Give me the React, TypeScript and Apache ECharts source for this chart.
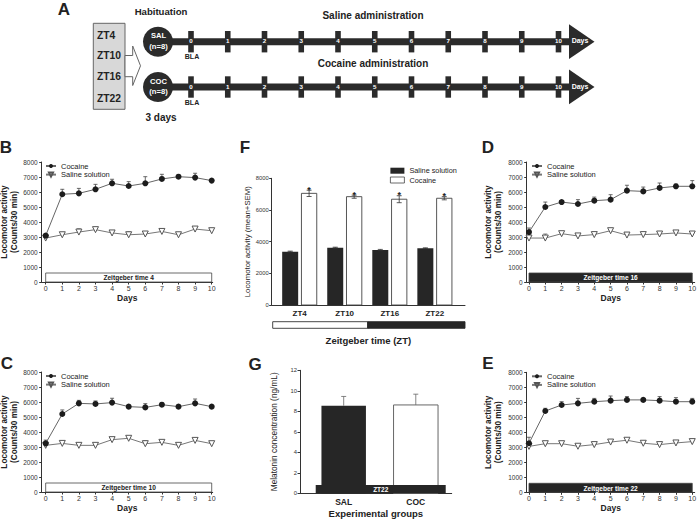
import React, { useEffect, useRef } from "react";
import * as echarts from "echarts";

const FONT = '"Liberation Sans", Arial, Helvetica, sans-serif';

// ---- Panel A (schematic) texts
const ztGroups = ["ZT4", "ZT10", "ZT16", "ZT22"];
const timelineDays = ["0", "1", "2", "3", "4", "5", "6", "7", "8", "9", "10"];

// ---- Line panels B, C, D, E
const days = [0, 1, 2, 3, 4, 5, 6, 7, 8, 9, 10];

const cocB = [3090, 5850, 5910, 6180, 6580, 6400, 6580, 6870, 7020, 6960, 6760];
const cocBErr = [100, 330, 330, 330, 270, 290, 440, 310, 60, 290, 50];
const salB = [2930, 3150, 3330, 3490, 3270, 3150, 3200, 3370, 3150, 3530, 3420];
const salBErr = [50, 100, 220, 150, 80, 200, 80, 80, 50, 150, 100];

const cocC = [3240, 5200, 5910, 5870, 5960, 5690, 5640, 5820, 5690, 5910, 5690];
const cocCErr = [220, 270, 200, 200, 290, 100, 250, 100, 100, 290, 80];
const salC = [3110, 3240, 3110, 3110, 3490, 3580, 3220, 3310, 3110, 3440, 3220];
const salCErr = [80, 80, 60, 60, 80, 60, 200, 80, 60, 100, 60];

const cocD = [3330, 5000, 5330, 5200, 5420, 5490, 6090, 6040, 6270, 6380, 6380];
const cocDErr = [270, 330, 100, 290, 240, 330, 360, 290, 330, 150, 380];
const salD = [2930, 2930, 3220, 3070, 3160, 3420, 3130, 3160, 3200, 3270, 3200];
const salDErr = [50, 270, 80, 60, 60, 100, 60, 60, 60, 60, 60];

const cocE = [3270, 5420, 5820, 5930, 6040, 6110, 6160, 6160, 6110, 6040, 6040];
const cocEErr = [400, 180, 220, 330, 220, 310, 220, 100, 270, 270, 220];
const salE = [3060, 3240, 3240, 3070, 3180, 3350, 3470, 3270, 3180, 3290, 3380];
const salEErr = [60, 60, 60, 60, 60, 60, 60, 60, 60, 60, 60];

// ---- Panel F
const fCats = ["ZT4", "ZT10", "ZT16", "ZT22"];
const fSaline = [3370, 3620, 3470, 3580];
const fSalineErr = [30, 30, 40, 30];
const fCocaine = [7050, 6840, 6680, 6740];
const fCocaineErr = [200, 100, 220, 100];

// ---- Panel G
const gCats = ["SAL", "COC"];
const gMelatonin = [8.55, 8.62];
const gMelatoninErr = [0.9, 1.05];

const DARK = "#2b2b2b";

function txt(x: number, y: number, text: string, size: number, opts: any = {}) {
  return {
    type: "text",
    x,
    y,
    z: 10,
    style: {
      text,
      font: `${opts.weight || "bold"} ${size}px ${FONT}`,
      fill: opts.fill || "#222",
      align: opts.align || "center",
      verticalAlign: opts.va || "middle",
    },
  };
}

function errRender(color: string, cap: number) {
  return (params: any, api: any) => {
    const x = api.value(0);
    const y = api.value(1);
    const e = api.value(2);
    const p0 = api.coord([x, y]);
    const p1 = api.coord([x, y + e]);
    return {
      type: "group",
      children: [
        { type: "line", shape: { x1: p0[0], y1: p0[1], x2: p1[0], y2: p1[1] }, style: { stroke: color, lineWidth: 0.8 } },
        { type: "line", shape: { x1: p1[0] - cap, y1: p1[1], x2: p1[0] + cap, y2: p1[1] }, style: { stroke: color, lineWidth: 0.8 } },
      ],
    };
  };
}

function boxRender(label: string, dark: boolean) {
  return (params: any, api: any) => {
    const a = api.coord([0, 0]);
    const b = api.coord([10, 600]);
    return {
      type: "group",
      children: [
        {
          type: "rect",
          shape: { x: a[0], y: b[1], width: b[0] - a[0], height: a[1] - b[1] },
          style: { fill: dark ? "#262626" : "#fff", stroke: "#444", lineWidth: 0.8 },
        },
        {
          type: "text",
          x: (a[0] + b[0]) / 2,
          y: (a[1] + b[1]) / 2 + 0.3,
          style: {
            text: label,
            fill: dark ? "#fff" : "#222",
            font: `bold 6.6px ${FONT}`,
            align: "center",
            verticalAlign: "middle",
          },
        },
      ],
    };
  };
}

function fBarRender(off: number, w: number, fill: string, stroke: string | null, star: boolean) {
  return (params: any, api: any) => {
    const i = api.value(0);
    const v = api.value(1);
    const e = api.value(2);
    const top = api.coord([i + off, v]);
    const base = api.coord([i + off, 0]);
    const half = api.size([w, 0])[0] / 2;
    const eTop = api.coord([i + off, v + e]);
    const eBot = api.coord([i + off, v - e]);
    const children: any[] = [
      {
        type: "rect",
        shape: { x: top[0] - half, y: top[1], width: 2 * half, height: base[1] - top[1] },
        style: stroke ? { fill, stroke, lineWidth: 0.9 } : { fill },
      },
      { type: "line", shape: { x1: eTop[0], y1: eBot[1], x2: eTop[0], y2: eTop[1] }, style: { stroke: "#333", lineWidth: 0.8 } },
      { type: "line", shape: { x1: eTop[0] - 2.5, y1: eTop[1], x2: eTop[0] + 2.5, y2: eTop[1] }, style: { stroke: "#333", lineWidth: 0.8 } },
      { type: "line", shape: { x1: eTop[0] - 2.5, y1: eBot[1], x2: eTop[0] + 2.5, y2: eBot[1] }, style: { stroke: "#333", lineWidth: 0.8 } },
    ];
    if (star) {
      children.push({
        type: "text",
        x: eTop[0],
        y: eTop[1] - 0.5,
        style: { text: "*", font: `bold 9px ${FONT}`, fill: "#222", align: "center", verticalAlign: "middle" },
      });
    }
    return { type: "group", children };
  };
}

function gBarRender(params: any, api: any) {
  const i = api.value(0);
  const v = api.value(1);
  const top = api.coord([i, v]);
  const base = api.coord([i, 0]);
  const half = api.size([0.617, 0])[0] / 2;
  const dark = params.dataIndex === 0;
  return {
    type: "rect",
    shape: { x: top[0] - half, y: top[1], width: 2 * half, height: base[1] - top[1] },
    style: dark ? { fill: "#262626" } : { fill: "#fff", stroke: "#666", lineWidth: 1 },
  };
}

function gZtRender(params: any, api: any) {
  const a = api.coord([-0.388, 0.8]);
  const b = api.coord([1.415, 0]);
  return {
    type: "group",
    children: [
      { type: "rect", shape: { x: a[0], y: a[1], width: b[0] - a[0], height: b[1] - a[1] }, style: { fill: "#262626" } },
      {
        type: "text",
        x: (a[0] + b[0]) / 2,
        y: (a[1] + b[1]) / 2 + 0.5,
        style: { text: "ZT22", fill: "#fff", font: `bold 6.5px ${FONT}`, align: "center", verticalAlign: "middle" },
      },
    ],
  };
}

const plain = (v: number) => String(v);

function buildOption() {
  const grid: any[] = [];
  const xAxis: any[] = [];
  const yAxis: any[] = [];
  const series: any[] = [];
  const legend: any[] = [];

  const panels = [
    { grid: { left: 41.7, top: 162, width: 171, height: 120 }, xMin: -0.24, xMax: 10.06, coc: cocB, cocErr: cocBErr, sal: salB, salErr: salBErr, zt: "Zeitgeber time 4", dark: false, nameGap: 19.5, legendLeft: 45 },
    { grid: { left: 41.7, top: 372, width: 171, height: 120 }, xMin: -0.24, xMax: 10.06, coc: cocC, cocErr: cocCErr, sal: salC, salErr: salCErr, zt: "Zeitgeber time 10", dark: false, nameGap: 19.5, legendLeft: 45 },
    { grid: { left: 526.7, top: 162, width: 168, height: 120 }, xMin: -0.14, xMax: 10.15, coc: cocD, cocErr: cocDErr, sal: salD, salErr: salDErr, zt: "Zeitgeber time 16", dark: true, nameGap: 23, legendLeft: 531 },
    { grid: { left: 526.7, top: 372.3, width: 168, height: 120 }, xMin: -0.14, xMax: 10.15, coc: cocE, cocErr: cocEErr, sal: salE, salErr: salEErr, zt: "Zeitgeber time 22", dark: true, nameGap: 23, legendLeft: 531 },
  ];

  const axisLine = { show: true, onZero: false, lineStyle: { color: "#333", width: 1 } };

  panels.forEach((p, i) => {
    grid.push({ ...p.grid, containLabel: false, outerBoundsMode: "none" });
    xAxis.push({
      gridIndex: i,
      type: "value",
      min: p.xMin,
      max: p.xMax,
      axisLine,
      axisTick: { show: true, length: 2.5, customValues: days, lineStyle: { color: "#333" } },
      axisLabel: { customValues: days, fontSize: 7, color: "#333", margin: 3, fontFamily: FONT, formatter: plain },
      splitLine: { show: false },
      name: "Days",
      nameLocation: "middle",
      nameGap: 11.5,
      nameTextStyle: { fontSize: 8.5, fontWeight: "bold", color: "#222", fontFamily: FONT },
    });
    yAxis.push({
      gridIndex: i,
      type: "value",
      min: 0,
      max: 8000,
      interval: 1000,
      axisLine,
      axisTick: { show: true, length: 2.5, lineStyle: { color: "#333" } },
      axisLabel: { fontSize: 6.5, color: "#333", margin: 4, fontFamily: FONT, formatter: plain },
      splitLine: { show: false },
      name: "Locomotor activity\n(Counts/30 min)",
      nameLocation: "middle",
      nameGap: p.nameGap,
      nameTextStyle: { fontSize: 8.2, lineHeight: 10, fontWeight: "bold", color: "#222", fontFamily: FONT },
    });
    series.push({
      type: "custom",
      name: "box" + i,
      xAxisIndex: i,
      yAxisIndex: i,
      data: [[0, 0]],
      renderItem: boxRender(p.zt, p.dark),
      z: 1,
      silent: true,
    });
    series.push({
      type: "custom",
      name: "cocErr" + i,
      xAxisIndex: i,
      yAxisIndex: i,
      data: days.map((d, k) => [d, p.coc[k], p.cocErr[k]]),
      renderItem: errRender("#444", 2),
      z: 2,
      silent: true,
    });
    series.push({
      type: "custom",
      name: "salErr" + i,
      xAxisIndex: i,
      yAxisIndex: i,
      data: days.map((d, k) => [d, p.sal[k], p.salErr[k]]),
      renderItem: errRender("#666", 2),
      z: 2,
      silent: true,
    });
    series.push({
      type: "line",
      name: "Saline solution",
      xAxisIndex: i,
      yAxisIndex: i,
      data: days.map((d, k) => [d, p.sal[k]]),
      symbol: "triangle",
      symbolRotate: 180,
      symbolSize: 6,
      showAllSymbol: true,
      itemStyle: { color: "#fff", borderColor: "#555", borderWidth: 1 },
      lineStyle: { color: "#777", width: 1 },
      z: 3,
      silent: true,
    });
    series.push({
      type: "line",
      name: "Cocaine",
      xAxisIndex: i,
      yAxisIndex: i,
      data: days.map((d, k) => [d, p.coc[k]]),
      symbol: "circle",
      symbolSize: 6,
      showAllSymbol: true,
      itemStyle: { color: "#1c1c1c" },
      lineStyle: { color: "#666", width: 1 },
      z: 4,
      silent: true,
    });
    legend.push({
      orient: "vertical",
      left: p.legendLeft,
      top: p.grid.top,
      padding: 0,
      itemGap: 0.6,
      itemWidth: 10,
      itemHeight: 5,
      selectedMode: false,
      data: ["Cocaine", "Saline solution"],
      textStyle: { fontSize: 7.5, color: "#222", lineHeight: 7.6, fontFamily: FONT },
    });
  });

  // ---- Panel F (grid 4)
  grid.push({ left: 271.7, top: 178.3, width: 193.3, height: 126.7, containLabel: false, outerBoundsMode: "none" });
  xAxis.push({
    gridIndex: 4,
    type: "value",
    min: -0.62,
    max: 3.67,
    axisLine,
    axisTick: { show: false },
    axisLabel: {
      customValues: [0, 1, 2, 3],
      formatter: (v: number) => fCats[Math.round(v)] || "",
      fontSize: 8,
      fontWeight: "bold",
      color: "#222",
      margin: 4,
      fontFamily: FONT,
    },
    splitLine: { show: false },
    name: "Zeitgeber time (ZT)",
    nameLocation: "middle",
    nameGap: 30,
    nameTextStyle: { fontSize: 9.5, fontWeight: "bold", color: "#222", fontFamily: FONT },
  });
  yAxis.push({
    gridIndex: 4,
    type: "value",
    min: 0,
    max: 8000,
    interval: 2000,
    axisLine,
    axisTick: { show: true, length: 2.5, lineStyle: { color: "#333" } },
    axisLabel: { fontSize: 5.8, color: "#333", margin: 3, fontFamily: FONT, formatter: plain },
    splitLine: { show: false },
    name: "Locomotor activity (mean+SEM)",
    nameLocation: "middle",
    nameGap: 20.5,
    nameTextStyle: { fontSize: 7.8, color: "#222", fontFamily: FONT },
  });
  series.push({
    type: "custom",
    name: "Saline solution",
    xAxisIndex: 4,
    yAxisIndex: 4,
    data: fSaline.map((v, i) => [i, v, fSalineErr[i]]),
    renderItem: fBarRender(-0.21, 0.355, "#262626", null, false),
    silent: true,
  });
  series.push({
    type: "custom",
    name: "Cocaine",
    xAxisIndex: 4,
    yAxisIndex: 4,
    data: fCocaine.map((v, i) => [i, v, fCocaineErr[i]]),
    renderItem: fBarRender(0.21, 0.34, "#fff", "#444", true),
    silent: true,
  });
  legend.push({
    orient: "vertical",
    left: 390,
    top: 167.2,
    padding: 0,
    itemGap: 2.3,
    itemWidth: 14,
    itemHeight: 6,
    selectedMode: false,
    data: [
      { name: "Saline solution", icon: "rect", itemStyle: { color: "#262626", borderWidth: 0 } },
      { name: "Cocaine", icon: "rect", itemStyle: { color: "#fff", borderColor: "#444", borderWidth: 0.8 } },
    ],
    textStyle: { fontSize: 7.3, color: "#222", lineHeight: 7, fontFamily: FONT },
  });

  // ---- Panel G (grid 5)
  grid.push({ left: 300, top: 370.3, width: 151.7, height: 123, containLabel: false, outerBoundsMode: "none" });
  xAxis.push({
    gridIndex: 5,
    type: "value",
    min: -0.606,
    max: 1.498,
    axisLine,
    axisTick: { show: false },
    axisLabel: {
      customValues: [0, 1],
      formatter: (v: number) => gCats[Math.round(v)] || "",
      fontSize: 8.5,
      fontWeight: "bold",
      color: "#222",
      margin: 4.5,
      fontFamily: FONT,
    },
    splitLine: { show: false },
    name: "Experimental groups",
    nameLocation: "middle",
    nameGap: 15,
    nameTextStyle: { fontSize: 9.5, fontWeight: "bold", color: "#222", fontFamily: FONT },
  });
  yAxis.push({
    gridIndex: 5,
    type: "value",
    min: 0,
    max: 12,
    interval: 2,
    axisLine,
    axisTick: { show: true, length: 2.5, lineStyle: { color: "#333" } },
    axisLabel: { fontSize: 5.8, color: "#333", margin: 3, fontFamily: FONT, formatter: plain },
    splitLine: { show: false },
    name: "Melatonin concentration (ng/mL)",
    nameLocation: "middle",
    nameGap: 22.5,
    nameTextStyle: { fontSize: 8.3, color: "#222", fontFamily: FONT },
  });
  series.push({
    type: "custom",
    name: "MelatoninErr",
    xAxisIndex: 5,
    yAxisIndex: 5,
    data: gMelatonin.map((v, i) => [i, v, gMelatoninErr[i]]),
    renderItem: errRender("#666", 2.5),
    z: 1,
    silent: true,
  });
  series.push({
    type: "custom",
    name: "Melatonin",
    xAxisIndex: 5,
    yAxisIndex: 5,
    data: gMelatonin.map((v, i) => [i, v]),
    renderItem: gBarRender,
    z: 2,
    silent: true,
  });
  series.push({
    type: "custom",
    name: "ZT22 bar",
    xAxisIndex: 5,
    yAxisIndex: 5,
    data: [[0, 0]],
    renderItem: gZtRender,
    z: 3,
    silent: true,
  });

  // ---- graphic: panel A schematic, panel letters, F light/dark bar
  const g: any[] = [];
  const letters: [string, number, number][] = [
    ["A", 64, 9.5],
    ["B", 6, 147],
    ["F", 245, 147],
    ["D", 488, 147],
    ["C", 7, 363],
    ["G", 255, 364],
    ["E", 488, 363.5],
  ];
  letters.forEach(([t, x, y]) => g.push(txt(x, y, t, 17)));

  g.push({ type: "rect", shape: { x: 93.3, y: 23.3, width: 31.7, height: 86 }, style: { fill: "#d8d8d8", stroke: "#666", lineWidth: 1 } });
  const ztY = [35, 55.5, 76.7, 98.3];
  ztGroups.forEach((t, i) => g.push(txt(97, ztY[i], t, 10.3, { align: "left" })));
  g.push({
    type: "polygon",
    shape: { points: [[125, 55.5], [132.7, 55.5], [132.7, 46], [140.5, 65.8], [132.7, 85.5], [132.7, 76.7], [125, 76.7]] },
    style: { fill: "#fff", stroke: "#666", lineWidth: 1 },
  });
  g.push(txt(161, 11.7, "Habituation", 9.6));
  g.push(txt(161, 117.3, "3 days", 10));

  const rows = [
    { cy: 41.7, c1: "SAL", title: "Saline administration", ty: 15 },
    { cy: 87, c1: "COC", title: "Cocaine administration", ty: 63.3 },
  ];
  rows.forEach((r) => {
    g.push({ type: "rect", shape: { x: 160, y: r.cy - 3.5, width: 410, height: 7 }, style: { fill: DARK } });
    g.push({ type: "circle", shape: { cx: 158, cy: r.cy, r: 15 }, style: { fill: DARK } });
    g.push(txt(158.5, r.cy - 6, r.c1, 7.6, { fill: "#fff" }));
    g.push(txt(158.5, r.cy + 4.5, "(n=8)", 7.6, { fill: "#fff" }));
    timelineDays.forEach((d, k) => {
      const x = 191 + 36.75 * k;
      g.push({ type: "rect", shape: { x: x - 2.8, y: r.cy - 10.7, width: 5.6, height: 21.4 }, style: { fill: DARK } });
      g.push(txt(x, r.cy - 0.8, d, 6.2, { fill: "#fff" }));
    });
    g.push({ type: "polygon", shape: { points: [[569, r.cy - 17.5], [594.5, r.cy], [569, r.cy + 17.3]] }, style: { fill: DARK } });
    g.push(txt(580, r.cy - 0.8, "Days", 7, { fill: "#fff" }));
    g.push(txt(192, r.cy + 15, "BLA", 7));
    g.push(txt(373, r.ty, r.title, 10));
  });

  g.push({ type: "rect", shape: { x: 272.7, y: 321.7, width: 95, height: 6.6 }, style: { fill: "#fff", stroke: "#333", lineWidth: 0.9 } });
  g.push({ type: "rect", shape: { x: 367.7, y: 321.7, width: 97.3, height: 6.6 }, style: { fill: "#262626", stroke: "#262626", lineWidth: 0.9 } });

  return {
    animation: false,
    backgroundColor: "#fff",
    textStyle: { fontFamily: FONT },
    grid,
    xAxis,
    yAxis,
    legend,
    series,
    graphic: { elements: g },
  };
}

export default function App() {
  const ref = useRef<HTMLDivElement | null>(null);
  useEffect(() => {
    if (!ref.current) return;
    const chart = echarts.init(ref.current, null, { renderer: "svg", width: 697, height: 519 });
    chart.setOption(buildOption() as any);
    return () => chart.dispose();
  }, []);
  return (
    <div
      ref={ref}
      style={{ position: "absolute", left: 0, top: 0, width: 697, height: 519, background: "#fff" }}
    />
  );
}
